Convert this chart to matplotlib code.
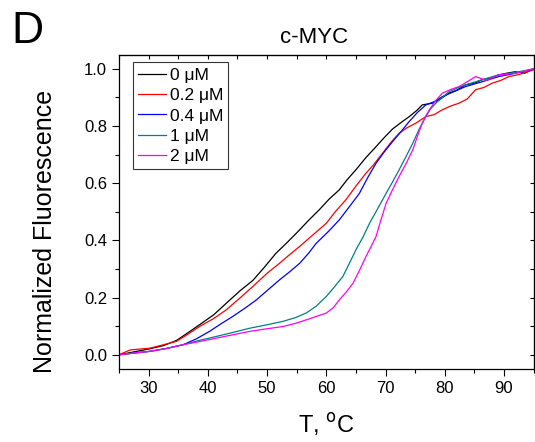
import matplotlib
matplotlib.use("Agg")
import matplotlib.pyplot as plt
from matplotlib.ticker import MultipleLocator

plt.rcParams['font.family'] = ['Liberation Sans', 'DejaVu Sans']

labels = ['0 \u03bcM', '0.2 \u03bcM', '0.4 \u03bcM', '1 \u03bcM', '2 \u03bcM']
colors = ['black', 'red', 'blue', '#008080', 'magenta']

# melting curves
t0 = [25.0, 27.5, 30.0, 32.5, 34.7, 36.5, 38.6, 41.0, 43.1, 45.5, 47.6, 49.5, 51.5, 53.5, 55.5,
      57.0, 58.8, 60.5, 62.2, 63.5, 65.0, 66.7, 68.4, 69.8, 71.2, 72.6, 74.0, 75.3, 76.2, 77.9,
      79.3, 80.7, 82.0, 83.5, 85.0, 86.3, 87.7, 89.1, 90.5, 91.9, 93.5, 95.0]
f0 = [0.00, 0.010, 0.020, 0.032, 0.050, 0.075, 0.105, 0.140, 0.180, 0.225, 0.260, 0.305, 0.355, 0.395, 0.437,
      0.470, 0.507, 0.545, 0.577, 0.612, 0.647, 0.690, 0.728, 0.760, 0.790, 0.812, 0.833, 0.855, 0.874, 0.880,
      0.895, 0.915, 0.925, 0.944, 0.950, 0.962, 0.968, 0.979, 0.985, 0.990, 0.985, 1.00]

t1 = [25.0, 26.9, 28.5, 30.2, 32.5, 34.7, 36.5, 38.6, 41.0, 43.1, 45.5, 47.6, 50.0, 52.1, 53.8,
      55.5, 57.5, 60.0, 61.5, 63.3, 65.0, 66.7, 68.0, 69.5, 71.0, 72.3, 73.7, 75.1, 76.8, 78.2,
      79.6, 81.0, 82.4, 83.8, 85.2, 86.6, 88.0, 89.5, 90.8, 92.5, 94.0, 95.0]
f1 = [0.00, 0.017, 0.020, 0.023, 0.035, 0.047, 0.070, 0.099, 0.127, 0.157, 0.200, 0.239, 0.285, 0.320, 0.350,
      0.379, 0.415, 0.460, 0.500, 0.542, 0.590, 0.635, 0.665, 0.705, 0.745, 0.775, 0.795, 0.810, 0.833, 0.840,
      0.857, 0.870, 0.880, 0.895, 0.927, 0.935, 0.950, 0.960, 0.973, 0.980, 0.990, 0.997]

t2 = [25.0, 27.5, 30.2, 33.0, 35.8, 38.0, 40.3, 42.2, 44.2, 46.2, 48.2, 50.2, 52.1, 53.8, 55.5,
      57.0, 58.3, 60.3, 62.2, 63.9, 65.6, 67.0, 68.4, 69.8, 71.2, 72.6, 74.0, 75.4, 76.8, 78.2,
      79.6, 81.5, 83.5, 86.3, 89.1, 92.0, 95.0]
f2 = [0.00, 0.006, 0.012, 0.022, 0.035, 0.055, 0.082, 0.108, 0.134, 0.162, 0.192, 0.228, 0.262, 0.290, 0.320,
      0.355, 0.390, 0.430, 0.472, 0.518, 0.565, 0.620, 0.670, 0.710, 0.746, 0.780, 0.816, 0.848, 0.874, 0.885,
      0.903, 0.920, 0.938, 0.955, 0.973, 0.985, 1.00]

t3 = [25.0, 27.5, 30.2, 33.0, 35.8, 38.5, 41.4, 44.2, 47.1, 50.0, 52.7, 54.8, 56.6, 58.3, 60.0,
      61.4, 62.8, 63.9, 65.0, 66.2, 67.3, 68.7, 70.1, 71.2, 72.3, 73.5, 74.6, 75.7, 76.8, 77.6,
      78.5, 79.6, 80.7, 82.0, 83.5, 86.3, 89.1, 92.0, 95.0]
f3 = [0.00, 0.006, 0.012, 0.022, 0.035, 0.050, 0.064, 0.078, 0.093, 0.105, 0.117, 0.130, 0.146, 0.170, 0.204,
      0.238, 0.274, 0.320, 0.367, 0.412, 0.460, 0.512, 0.565, 0.605, 0.647, 0.695, 0.740, 0.790, 0.833, 0.860,
      0.880, 0.900, 0.920, 0.932, 0.944, 0.962, 0.979, 0.988, 1.00]

t4 = [25.0, 27.5, 30.2, 33.0, 35.8, 38.5, 41.4, 44.2, 47.1, 50.0, 52.7, 54.8, 56.6, 58.3, 60.0,
      61.2, 62.2, 63.4, 64.5, 65.6, 66.7, 67.6, 68.4, 69.2, 70.1, 71.2, 72.3, 73.5, 74.6, 75.4,
      76.2, 76.8, 77.4, 78.5, 79.6, 81.0, 82.4, 83.8, 85.2, 87.0, 89.1, 92.0, 95.0]
f4 = [0.00, 0.006, 0.012, 0.022, 0.035, 0.046, 0.058, 0.070, 0.082, 0.091, 0.099, 0.110, 0.122, 0.134, 0.146,
      0.165, 0.192, 0.220, 0.250, 0.295, 0.344, 0.380, 0.414, 0.470, 0.530, 0.578, 0.624, 0.670, 0.717, 0.765,
      0.810, 0.835, 0.857, 0.890, 0.915, 0.928, 0.938, 0.955, 0.973, 0.960, 0.979, 0.985, 1.00]

temps = [t0, t1, t2, t3, t4]
fluor = [f0, f1, f2, f3, f4]

fig = plt.figure(figsize=(5.35, 4.42), dpi=100)
ax = fig.add_axes([0.2224, 0.165, 0.7750, 0.7115])

for t, f, c, lab in zip(temps, fluor, colors, labels):
    ax.plot(t, f, color=c, lw=0.9, label=lab)

ax.set_xlim(25, 95)
ax.set_ylim(-0.05, 1.05)
ax.xaxis.set_major_locator(MultipleLocator(10))
ax.xaxis.set_minor_locator(MultipleLocator(5))
ax.yaxis.set_major_locator(MultipleLocator(0.2))
ax.yaxis.set_minor_locator(MultipleLocator(0.1))
ax.yaxis.set_major_formatter(matplotlib.ticker.FormatStrFormatter('%.1f'))
ax.tick_params(which='both', direction='out', labelsize=12, width=0.8)
ax.tick_params(which='major', length=5)
ax.tick_params(which='minor', length=3)

# inward ticks on top and right, no labels
axt = ax.secondary_xaxis('top')
axt.xaxis.set_major_locator(MultipleLocator(5))
axt.tick_params(direction='in', length=3, labeltop=False, width=0.8)
axr = ax.secondary_yaxis('right')
axr.yaxis.set_major_locator(MultipleLocator(0.1))
axr.tick_params(direction='in', length=3, labelright=False, width=0.8)

for s in ax.spines.values():
    s.set_linewidth(0.9)

ax.set_xlabel('T, $^{\\mathrm{o}}$C', fontsize=17, labelpad=11)
ax.set_ylabel('Normalized Fluorescence', fontsize=18)
ax.yaxis.set_label_coords(-0.149, 0.438)
ax.set_title('c-MYC', fontsize=16, x=0.47, pad=8)

leg = ax.legend(loc='upper left', bbox_to_anchor=(0.034, 0.975), fontsize=12.5, frameon=True,
                fancybox=False, edgecolor='black', handlelength=1.6, handletextpad=0.2,
                labelspacing=0.3, borderpad=0.3, borderaxespad=0)
leg.get_frame().set_linewidth(0.8)

fig.text(0.022, 0.975, 'D', fontsize=32, va='top', ha='left')

fig.savefig('out.png', dpi=100)
